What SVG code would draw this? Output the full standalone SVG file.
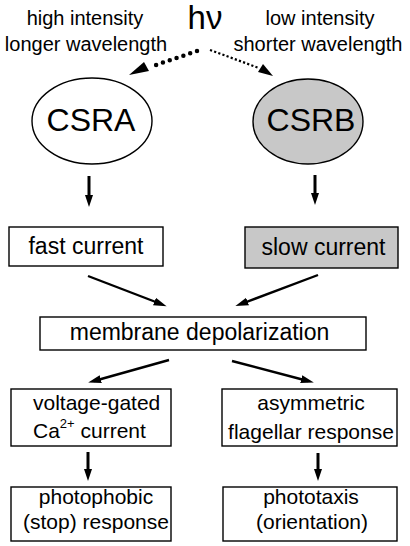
<svg xmlns="http://www.w3.org/2000/svg" width="410" height="546" viewBox="0 0 410 546">
<style>
text{font-family:"Liberation Sans",Arial,sans-serif;fill:#000}
.lbl{font-size:20px;text-anchor:middle}
.big{font-size:32px;text-anchor:middle}
.box{fill:#fff;stroke:#000;stroke-width:1.4}
.gray{fill:#c8c8c8}
.t23{font-size:23px;text-anchor:middle}
.t21{font-size:21px;text-anchor:middle}
.arr{stroke:#000;stroke-width:2.4;fill:none;marker-end:url(#ah)}
.varr{stroke:#000;stroke-width:3;fill:none;marker-end:url(#ahv)}
</style>
<defs>
<marker id="ah" markerUnits="userSpaceOnUse" markerWidth="14" markerHeight="10" refX="7" refY="4" orient="auto" viewBox="0 0 14 8">
<path d="M0,0 L13,4 L0,8 z" fill="#000"/>
</marker>
<marker id="ahv" markerUnits="userSpaceOnUse" markerWidth="14" markerHeight="10" refX="6" refY="4" orient="auto" viewBox="0 0 14 8">
<path d="M0,0 L12,4 L0,8 z" fill="#000"/>
</marker>
</defs>

<g id="light">
<text class="lbl" x="85" y="25">high intensity</text>
<text class="lbl" x="86" y="51">longer wavelength</text>
<text x="205" y="29" font-size="33" text-anchor="middle">hν</text>
<text class="lbl" x="320" y="25">low intensity</text>
<text class="lbl" x="318" y="51">shorter wavelength</text>
</g>

<g id="connectors">
<line x1="197" y1="51" x2="150" y2="67" stroke="#000" stroke-width="4.5" stroke-linecap="round" stroke-dasharray="0 7.2"/>
<polygon points="129,75 144,62 149,71" fill="#000"/>
<line x1="210" y1="50" x2="259" y2="68" stroke="#000" stroke-width="2.2" stroke-dasharray="2.2 2.2"/>
<polygon points="273,76 258,72 263,64" fill="#000"/>
<line class="varr" x1="89" y1="176" x2="89" y2="201"/>
<line class="varr" x1="315" y1="175" x2="315" y2="199"/>
<line class="arr" x1="88" y1="276" x2="161" y2="304"/>
<line class="arr" x1="318" y1="275" x2="241" y2="304"/>
<line class="arr" x1="169" y1="360" x2="94" y2="381"/>
<line class="arr" x1="232" y1="361" x2="308" y2="381"/>
<line class="varr" x1="88" y1="452" x2="88" y2="475"/>
<line class="varr" x1="318" y1="453" x2="318" y2="475"/>
</g>

<g id="csra">
<ellipse class="box" cx="92" cy="121" rx="60" ry="43"/>
<text class="big" x="91" y="131">CSRA</text>
</g>
<g id="csrb">
<ellipse class="box gray" cx="308" cy="121.5" rx="55" ry="42.5"/>
<text class="big" x="311" y="131">CSRB</text>
</g>

<g id="fast">
<rect class="box" x="9" y="227" width="154" height="39"/>
<text class="t23" x="86" y="254">fast current</text>
</g>
<g id="slow">
<rect class="box gray" x="245" y="227" width="153" height="41"/>
<text class="t23" x="323.5" y="255">slow current</text>
</g>

<g id="membrane">
<rect class="box" x="40" y="317" width="326" height="33"/>
<text class="t23" x="199.5" y="340">membrane depolarization</text>
</g>

<g id="voltage">
<rect class="box" x="11" y="389" width="160" height="57"/>
<text x="33" y="410" font-size="21">voltage-gated</text>
<text x="33" y="438" font-size="21">Ca<tspan dy="-10" font-size="13">2+</tspan><tspan dy="10"> current</tspan></text>
</g>
<g id="asym">
<rect class="box" x="222" y="389" width="175" height="57"/>
<text class="t21" x="311" y="410">asymmetric</text>
<text class="t21" x="311" y="439">flagellar response</text>
</g>

<g id="photophobic">
<rect class="box" x="11" y="487" width="160" height="54"/>
<text class="t21" x="96" y="504">photophobic</text>
<text class="t21" x="96" y="529">(stop) response</text>
</g>
<g id="phototaxis">
<rect class="box" x="223" y="487" width="174" height="54"/>
<text class="t21" x="311" y="504">phototaxis</text>
<text class="t21" x="312" y="529">(orientation)</text>
</g>
</svg>
